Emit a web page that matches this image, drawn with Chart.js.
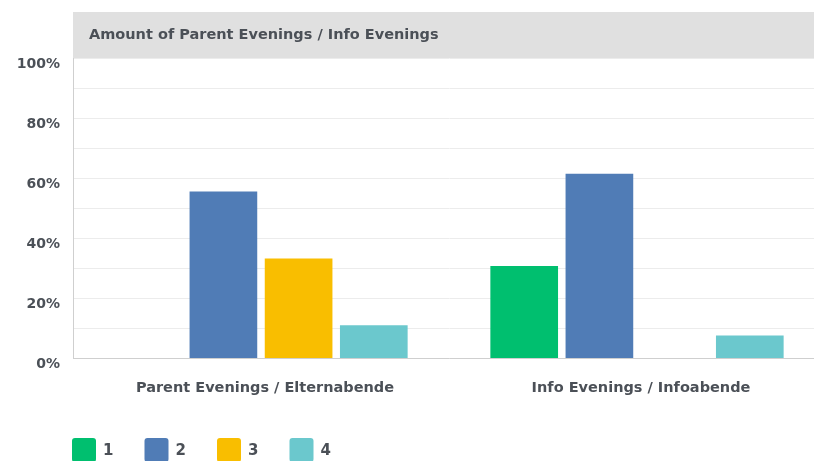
<!DOCTYPE html>
<html>
<head>
<meta charset="utf-8">
<script src="https://cdn.jsdelivr.net/npm/chart.js@4/dist/chart.umd.min.js"></script>
<style>
    html, body { margin: 0; padding: 0; background: #fff; overflow: hidden; }
    #wrap { width: 830px; height: 461px; }
</style>
</head>
<body>
<div id="wrap"><canvas id="chart" width="830" height="461"></canvas></div>
<script>
// Data (percent of respondents)
const categories = ['Parent Evenings / Elternabende', 'Info Evenings / Infoabende'];
const seriesLabels = ['1', '2', '3', '4'];
const answer1 = [0, 30.8];
const answer2 = [55.6, 61.5];
const answer3 = [33.3, 0];
const answer4 = [11.1, 7.7];
const chartTitle = 'Amount of Parent Evenings / Info Evenings';

// Color palette
const colors = {
    green: '#00bf6f',
    blue: '#507cb6',
    yellow: '#f9be00',
    teal: '#6bc8cd',
    text: '#4b5057',
    grid: '#ececec',
    axis: '#cfcfcf',
    header: '#e0e0e0',
};
const fontFamily = "'DejaVu Sans', sans-serif";

// Grey header bar with the question title, sitting on top of the plot area
const headerPlugin = {
    id: 'header',
    beforeDraw(chart) {
        const { ctx, chartArea } = chart;
        ctx.save();
        ctx.fillStyle = colors.header;
        ctx.fillRect(chartArea.left, 12, chartArea.right - chartArea.left, chartArea.top - 12);
        ctx.fillStyle = colors.text;
        ctx.font = `bold 14.5px ${fontFamily}`;
        ctx.textBaseline = 'middle';
        ctx.fillText(chartTitle, chartArea.left + 16, (12 + chartArea.top) / 2);
        ctx.restore();
    },
};

// Legend drawn below the axis, left aligned with the plot
const legendPlugin = {
    id: 'squareLegend',
    afterDraw(chart) {
        const { ctx } = chart;
        ctx.save();
        chart.data.datasets.forEach((ds, i) => {
            const x = 72 + i * 72.5;
            const y = 438;
            ctx.fillStyle = ds.backgroundColor;
            ctx.beginPath();
            ctx.roundRect(x, y, 24, 24, 3);
            ctx.fill();
            ctx.fillStyle = colors.text;
            ctx.font = `bold 15px ${fontFamily}`;
            ctx.textBaseline = 'middle';
            ctx.fillText(ds.label, x + 31, y + 13);
        });
        ctx.restore();
    },
};

const makeDataset = (label, data, color) => ({
    label,
    data,
    backgroundColor: color,
    borderWidth: 0,
    categoryPercentage: 0.8,
    barPercentage: 0.9,
});

new Chart(document.getElementById('chart'), {
    type: 'bar',
    data: {
        labels: categories,
        datasets: [
            makeDataset(seriesLabels[0], answer1, colors.green),
            makeDataset(seriesLabels[1], answer2, colors.blue),
            makeDataset(seriesLabels[2], answer3, colors.yellow),
            makeDataset(seriesLabels[3], answer4, colors.teal),
        ],
    },
    options: {
        responsive: false,
        animation: false,
        layout: {
            padding: { top: 58, right: 5, bottom: 51, left: 0 },
        },
        plugins: {
            legend: { display: false },
            tooltip: { enabled: false },
        },
        scales: {
            x: {
                grid: { display: false },
                border: { color: colors.axis, width: 1 },
                ticks: {
                    color: colors.text,
                    font: { family: fontFamily, size: 14.5, weight: 'bold' },
                    padding: 13,
                    labelOffset: 4,
                    maxRotation: 0,
                },
            },
            y: {
                min: 0,
                max: 100,
                afterFit(scale) {
                    scale.width = 73;
                },
                grid: {
                    color: colors.grid,
                    drawTicks: false,
                },
                border: { color: colors.axis, width: 1 },
                ticks: {
                    stepSize: 10,
                    padding: 13,
                    labelOffset: 6,
                    color: colors.text,
                    font: { family: fontFamily, size: 14, weight: 'bold' },
                    callback: (v) => (v % 20 === 0 ? v + '%' : ''),
                },
            },
        },
    },
    plugins: [headerPlugin, legendPlugin],
});
</script>
</body>
</html>
